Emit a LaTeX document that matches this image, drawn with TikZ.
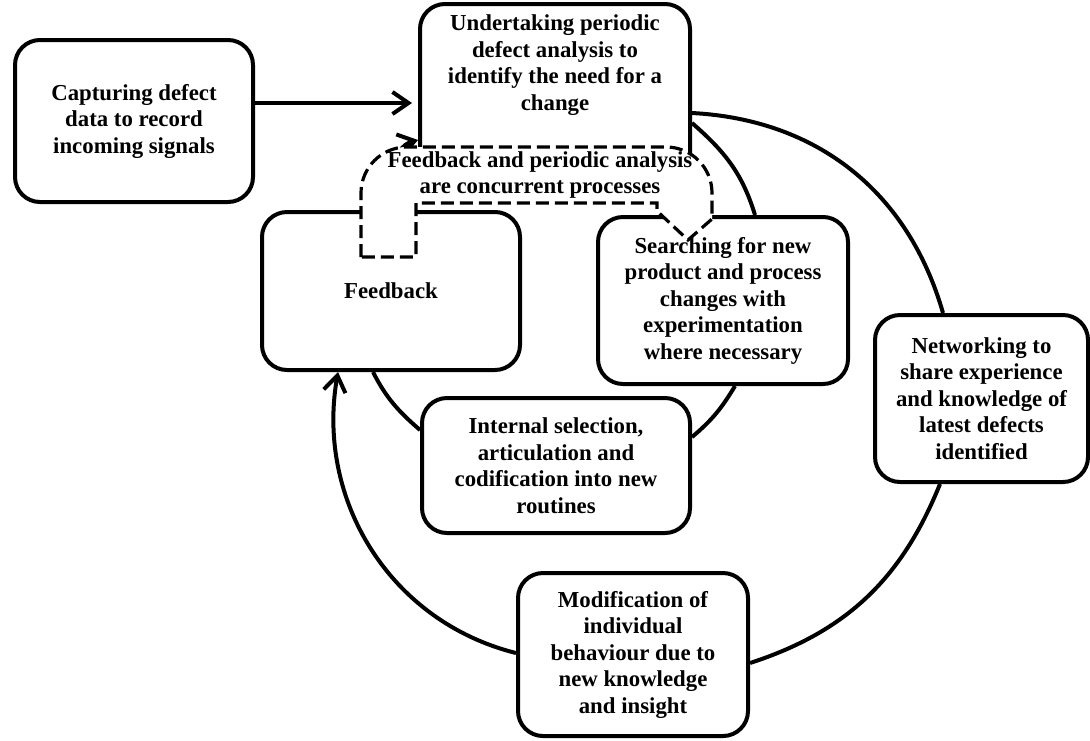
\documentclass[tikz,border=0pt]{standalone}
\usepackage{fontspec}
\setmainfont{Liberation Serif}
\usepackage{tikz}
\usetikzlibrary{arrows.meta}
\tikzset{
    box/.style={draw, fill=white, rounded corners=12.5pt, line width=2pt, align=center, inner sep=0pt},
    link/.style={line width=2pt},
    tip/.style={-{Straight Barb[length=8pt, width=11pt]}},
    concurrent/.style={draw, fill=white, line width=1.6pt, dash pattern=on 6.5pt off 3pt}
}

\begin{document}
\begin{tikzpicture}[x=0.5pt, y=0.5pt, font=\fontsize{11.4}{13.25}\selectfont\bfseries]
  \useasboundingbox (0,0) rectangle (1090,-740);

  \node[box, minimum width=119pt, minimum height=81pt] (capture) at (134,-121) {Capturing defect\\data to record\\incoming signals};
  \node[box, minimum width=135pt, minimum height=92pt] (analysis) at (555,-96) {};
  \node (analysis-text) at (555,-65) [align=center, inner sep=0pt] {Undertaking periodic\\defect analysis to\\identify the need for a\\change};
  \node[box, minimum width=129pt, minimum height=79pt] (feedback) at (391,-291) {Feedback};
  \node[box, minimum width=125pt, minimum height=83.5pt] (search) at (723,-300.5) {Searching for new\\product and process\\changes with\\experimentation\\where necessary};
  \node[box, minimum width=134pt, minimum height=67.5pt] (internal) at (556,-465.5) {Internal selection,\\articulation and\\codification into new\\routines};
  \node[box, minimum width=106.5pt, minimum height=83.5pt] (network) at (981.5,-398.5) {Networking to\\share experience\\and knowledge of\\latest defects\\identified};
  \node[box, minimum width=115pt, minimum height=81.5pt] (modify) at (633,-654.5) {Modification of\\individual\\behaviour due to\\new knowledge\\and insight};

  \draw[link, tip, shorten >=3pt] (capture.east |- 0,-103) -- (analysis.west |- 0,-103);

  % inner loop
  \draw[link] (analysis.east |- 0,-123) to[out=-41, in=107] (755,0 |- search.north);
  \draw[link] (735,0 |- search.south) to[out=-121, in=40] (internal.east |- 0,-437);
  \draw[link] (internal.west |- 0,-430) to[out=139, in=-63] (373,0 |- feedback.south);
  \draw[link, tip] (390,0 |- feedback.north) to[out=80, in=195] (analysis.west |- 0,-140);

  % outer loop
  \draw[link] (analysis.east |- 0,-113) to[out=-3, in=106] (943,0 |- network.north);
  \draw[link] (940,0 |- network.south) to[out=-112, in=18] (modify.east |- 0,-663);
  \draw[link, tip] (modify.west |- 0,-653) to[out=166, in=-100] (338,0 |- feedback.south);

  \draw[concurrent] (361,-257) [rounded corners=23pt] -- (361,-147) -- (712,-147) [sharp corners] -- (712,-219)
    -- (688,-240) -- (657,-211) -- (657,-203) -- (416,-203) -- (416,-257) -- cycle;
  \node (concurrent-text) at (540,-175) [align=center, inner sep=0pt] {Feedback and periodic analysis\\are concurrent processes};
\end{tikzpicture}
\end{document}
